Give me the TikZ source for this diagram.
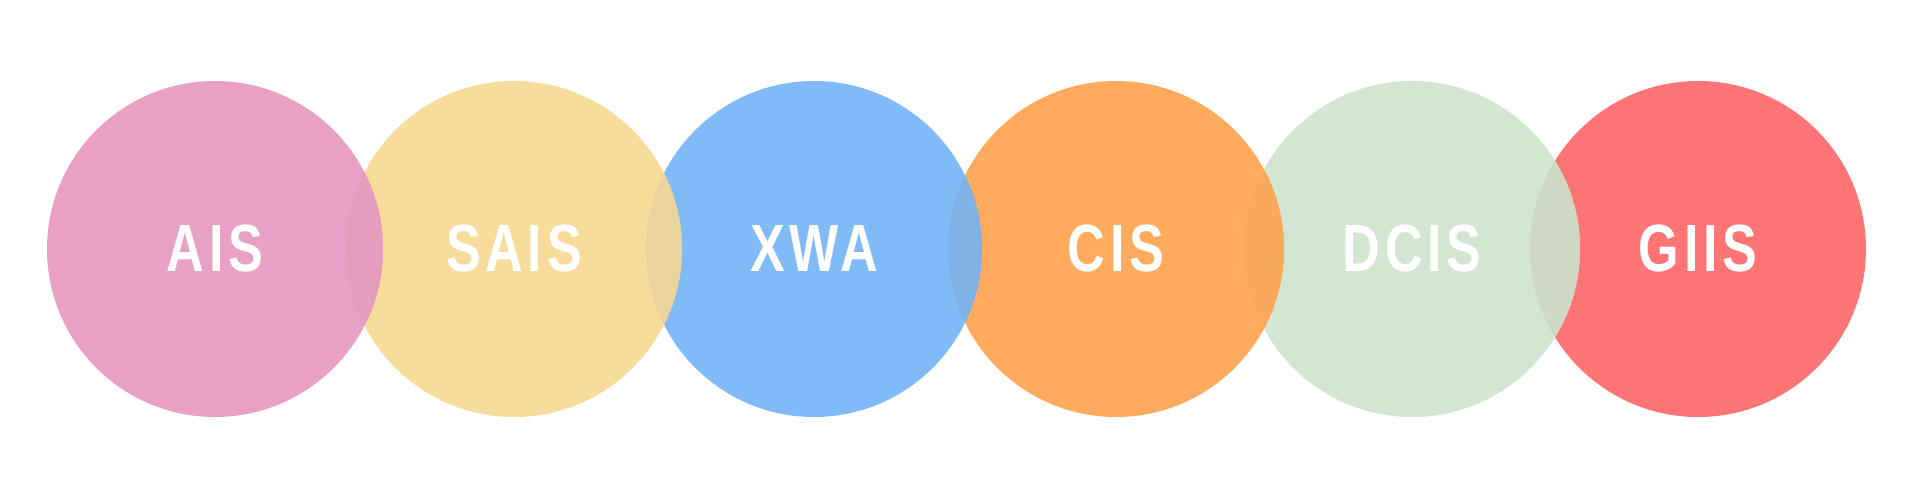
\documentclass[tikz,border=0pt]{standalone}
\usepackage{fontspec}
\newfontfamily\ringfont[LetterSpace=9]{Liberation Sans Bold}
\newcommand{\ringtext}[1]{\scalebox{0.78}[1]{\ringfont\fontsize{38}{40}\selectfont #1}}
\definecolor{aispink}{HTML}{E8A0C4}
\definecolor{saisyellow}{HTML}{F7DC9C}
\definecolor{xwablue}{HTML}{80BBF8}
\definecolor{cisorange}{HTML}{FFAA5C}
\definecolor{dcisgreen}{HTML}{D2E6D2}
\definecolor{giisred}{HTML}{FF7575}
% colours where two rings overlap
\definecolor{lensone}{HTML}{E59DBE}
\definecolor{lenstwo}{HTML}{E8D49C}
\definecolor{lensthree}{HTML}{80B2E6}
\definecolor{lensfour}{HTML}{F9A95C}
\definecolor{lensfive}{HTML}{D0D8C4}
\tikzset{
  ring/.style={circle, minimum size=6.72cm, inner sep=0pt, text=white},
}
\begin{document}
\begin{tikzpicture}
\useasboundingbox (0,0) rectangle (38.4,10.06);

%rings, right one first
\node[ring, fill=giisred]    (giis) at (33.96,5.08) {\ringtext{GIIS}};
\node[ring, fill=dcisgreen]  (dcis) at (28.24,5.08) {\ringtext{DCIS}};
\node[ring, fill=cisorange]  (cis)  at (22.32,5.08) {\ringtext{CIS}};
\node[ring, fill=xwablue]    (xwa)  at (16.28,5.08) {\ringtext{XWA}};
\node[ring, fill=saisyellow] (sais) at (10.28,5.08) {\ringtext{SAIS}};
\node[ring, fill=aispink]    (ais)  at (4.30,5.08)  {\ringtext{AIS}};

%overlaps
\begin{scope}
 \clip (ais.center) circle (3.36);
 \fill [lensone] (sais.center) circle (3.36);
\end{scope}
\begin{scope}
 \clip (sais.center) circle (3.36);
 \fill [lenstwo] (xwa.center) circle (3.36);
\end{scope}
\begin{scope}
 \clip (xwa.center) circle (3.36);
 \fill [lensthree] (cis.center) circle (3.36);
\end{scope}
\begin{scope}
 \clip (cis.center) circle (3.36);
 \fill [lensfour] (dcis.center) circle (3.36);
\end{scope}
\begin{scope}
 \clip (dcis.center) circle (3.36);
 \fill [lensfive] (giis.center) circle (3.36);
\end{scope}
\end{tikzpicture}
\end{document}
